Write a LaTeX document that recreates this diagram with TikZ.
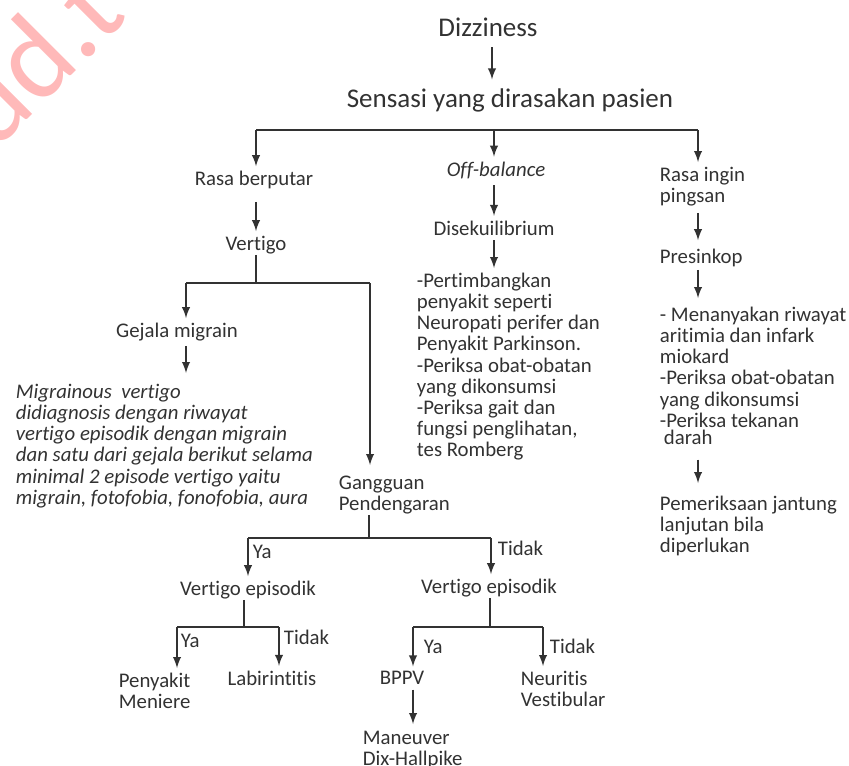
\documentclass[tikz,border=0pt]{standalone}
\usepackage{fontspec}
\setmainfont{Carlito}[Ligatures=NoCommon]
\definecolor{ink}{RGB}{50,50,50}
\definecolor{wmark}{RGB}{255,185,185}
\tikzset{
  txt/.style={inner sep=0pt,text=ink,font=\fontsize{10.4}{10.6}\selectfont},
  blk/.style={txt,anchor=north west,align=left},
  big/.style={inner sep=0pt,text=ink,font=\fontsize{13.5}{15}\selectfont},
  lbl/.style={txt,anchor=west},
}

\begin{document}
\begin{tikzpicture}[->,>=latex,x=0.5pt,y=-0.5pt,line width=0.9pt,draw=ink,shorten >=2pt]

\useasboundingbox (0,0) rectangle (849,765);
\node [rotate=45,anchor=base west,inner sep=0pt,text=wmark,font=\fontsize{59}{59}\selectfont] (wm) at (-6,153) {ud.t};

\node [big] (diz) at (488,27) {Dizziness};
\node [big] (sens) at (510,100) {Sensasi yang dirasakan pasien};

\coordinate (s1) at (256,130);
\coordinate (s2) at (494,130);
\coordinate (s3) at (698,130);

\node [txt] (rasa) at (254,180) {Rasa berputar};
\node [txt] (vert) at (256,245) {Vertigo};
\node [txt] (gej) at (177,332) {Gejala migrain};
\node [blk,font=\fontsize{10.4}{10.6}\selectfont\itshape] (mig) at (15,383) {Migrainous\ \ vertigo\\didiagnosis dengan riwayat\\vertigo episodik dengan migrain\\dan satu dari gejala berikut selama\\minimal 2 episode vertigo yaitu\\migrain, fotofobia, fonofobia, aura};
\node [blk] (gang) at (338,475) {Gangguan\\Pendengaran};

\node [txt] (ve1) at (248,590) {Vertigo episodik};
\node [blk] (peny) at (118,672) {Penyakit\\Meniere};
\node [txt] (labi) at (272,678) {Labirintitis};
\node [txt] (ve2) at (489,588) {Vertigo episodik};
\node [txt] (bppv) at (402,678) {BPPV};
\node [blk] (man) at (362,730) {Maneuver\\Dix-Hallpike};
\node [blk] (neur) at (520,670) {Neuritis\\Vestibular};

\node [txt,font=\fontsize{10.4}{10.6}\selectfont\itshape] (off) at (496,170) {Off-balance};
\node [txt] (dise) at (494,228) {Disekuilibrium};
\node [blk] (mid) at (416,272) {-Pertimbangkan\\penyakit seperti\\Neuropati perifer dan\\Penyakit Parkinson.\\-Periksa obat-obatan\\yang dikonsumsi\\-Periksa gait dan\\fungsi penglihatan,\\tes Romberg};

\node [blk] (ingin) at (659,166) {Rasa ingin\\pingsan};
\node [txt,anchor=west] (pres) at (659,258) {Presinkop};
\node [blk] (rblk) at (659,306) {- Menanyakan riwayat\\aritimia dan infark\\miokard\\-Periksa obat-obatan\\yang dikonsumsi\\-Periksa tekanan\\[-2pt]\hspace{2pt}darah};
\node [blk] (pem) at (659,495) {Pemeriksaan jantung\\lanjutan bila\\diperlukan};

\coordinate (v0) at (256,283);
\coordinate (v1) at (186,283);
\coordinate (v2) at (370,283);
\coordinate (g0) at (369,538);
\coordinate (g1) at (248,538);
\coordinate (g2) at (491,538);
\coordinate (e0) at (244,627);
\coordinate (e1) at (177,627);
\coordinate (e2) at (279,627);
\coordinate (f0) at (490,627);
\coordinate (f1) at (413,627);
\coordinate (f2) at (543,627);

\path [draw,-,shorten >=0pt]
    (s1) -- (s3)
    (vert.south -| v0) -- (v0)
    (v1) -- (v2)
    (gang.south -| g0) -- (g0)
    (g1) -- (g2)
    (ve1.south -| e0) -- (e0)
    (e1) -- (e2)
    (ve2.south -| f0) -- (f0)
    (f1) -- (f2)
;

\draw [shorten <=5pt,shorten >=4pt] (diz.south -| 492,0) -- (sens.north -| 492,0);
\draw (s1) -- (rasa.north -| s1);
\draw (s2) -- (off.north -| s2);
\draw (s3) -- (ingin.north -| s3);

\draw [shorten <=6pt] (rasa.south -| s1) -- (vert.north -| s1);
\draw (v1) -- (gej.north -| v1);
\draw [shorten <=2pt,shorten >=5pt] (gej.south -| v1) -- (mig.north -| v1);
\draw [shorten >=5pt] (v2) -- (gang.north -| v2);

\draw (g1) -- (ve1.north -| g1) node [lbl,pos=.32,xshift=2pt] {Ya};
\draw (g2) -- (ve2.north -| g2) node [lbl,pos=.25,xshift=3pt] {Tidak};
\draw (e1) -- (peny.north -| e1) node [lbl,pos=.3,xshift=1.5pt] {Ya};
\draw (e2) -- (labi.north -| e2) node [lbl,pos=.25,xshift=2pt] {Tidak};
\draw (f1) -- (bppv.north -| f1) node [lbl,pos=.45,xshift=5pt] {Ya};
\draw (f2) -- (neur.north -| f2) node [lbl,pos=.45,xshift=3pt] {Tidak};
\draw [shorten <=2pt,shorten >=3pt] (bppv.south -| f1) -- (man.north -| f1);

\draw [shorten <=3pt] (off.south -| s2) -- (dise.north -| s2);
\draw [shorten <=2pt] (dise.south -| s2) -- (mid.north -| s2);

\draw [shorten <=3pt,shorten >=4pt] (ingin.south -| s3) -- (pres.north -| s3);
\draw [shorten <=1pt,shorten >=4pt] (pres.south -| s3) -- (rblk.north -| s3);
\draw [shorten <=7pt,shorten >=6pt] (rblk.south -| s3) -- (pem.north -| s3);

\end{tikzpicture}
\end{document}
